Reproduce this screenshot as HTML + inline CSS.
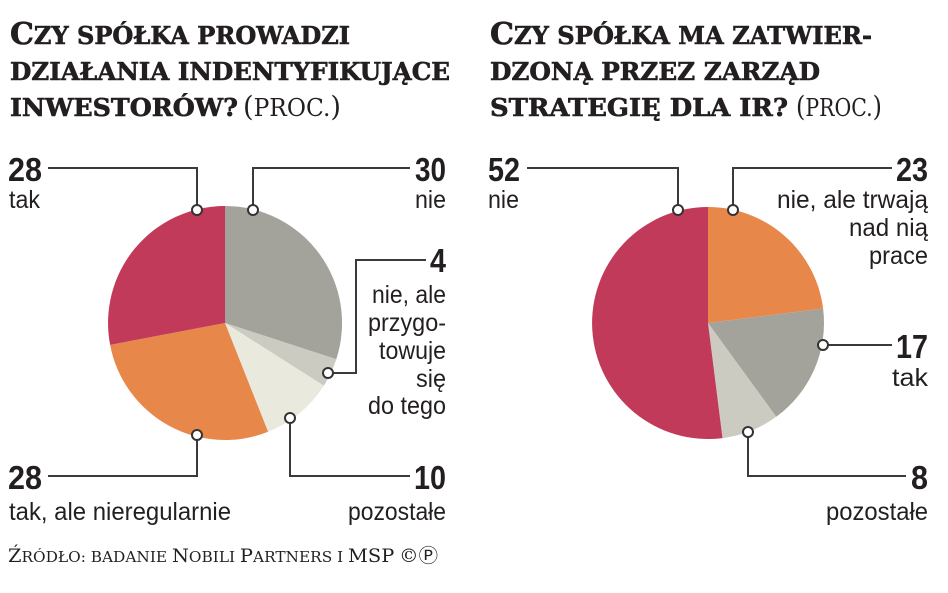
<!DOCTYPE html>
<html><head><meta charset="utf-8"><style>
html,body{margin:0;padding:0;background:#fff;}
svg{display:block}
.t{font-family:"DejaVu Serif","Liberation Serif",serif;font-weight:bold;fill:#231f20;stroke:#231f20;stroke-width:0.6;font-size:24px}
.tn{font-family:"DejaVu Serif","Liberation Serif",serif;font-weight:normal;fill:#231f20;font-size:24px}
.n{font-family:"Liberation Sans",sans-serif;font-weight:bold;fill:#231f20;font-size:33px}
.l{font-family:"Liberation Sans",sans-serif;fill:#231f20;font-size:25px}
.s{font-family:"DejaVu Serif","Liberation Serif",serif;fill:#231f20;font-size:15px}
.ln{stroke:#3a3a3a;stroke-width:2;fill:none}
.c{fill:#fff;stroke:#333;stroke-width:2}
</style></head><body>
<svg width="948" height="593" viewBox="0 0 948 593" xmlns="http://www.w3.org/2000/svg">
<text class="t" x="10" y="44" textLength="340" lengthAdjust="spacingAndGlyphs"><tspan font-size="30">C</tspan>ZY SPÓŁKA PROWADZI</text>
<text class="t" x="10" y="80" textLength="440" lengthAdjust="spacingAndGlyphs">DZIAŁANIA INDENTYFIKUJĄCE</text>
<text class="t" x="10" y="116" textLength="228" lengthAdjust="spacingAndGlyphs">INWESTORÓW?</text>
<text class="tn" x="243" y="116" textLength="98" lengthAdjust="spacingAndGlyphs"><tspan font-size="28">(</tspan>PROC.<tspan font-size="28">)</tspan></text>

<text class="t" x="490" y="44" textLength="382" lengthAdjust="spacingAndGlyphs"><tspan font-size="30">C</tspan>ZY SPÓŁKA MA ZATWIER-</text>
<text class="t" x="490" y="80" textLength="330" lengthAdjust="spacingAndGlyphs">DZONĄ PRZEZ ZARZĄD</text>
<text class="t" x="490" y="116" textLength="298" lengthAdjust="spacingAndGlyphs">STRATEGIĘ DLA IR?</text>
<text class="tn" x="796" y="116" textLength="86" lengthAdjust="spacingAndGlyphs"><tspan font-size="28">(</tspan>PROC.<tspan font-size="28">)</tspan></text>

<g>
<path d="M225,323 L225,206 A117,117 0 0 1 336.3,359.2 Z" fill="#a3a39b"/>
<path d="M225,323 L336.3,359.2 A117,117 0 0 1 323.8,385.7 Z" fill="#cbcbc2"/>
<path d="M225,323 L323.8,385.7 A117,117 0 0 1 268.1,431.8 Z" fill="#e9e9de"/>
<path d="M225,323 L268.1,431.8 A117,117 0 0 1 110.1,344.9 Z" fill="#e8874a"/>
<path d="M225,323 L110.1,344.9 A117,117 0 0 1 225,206 Z" fill="#c23a5a"/>
</g>
<g>
<path d="M708,323 L708,207 A116,116 0 0 1 823.1,308.5 Z" fill="#e8874a"/>
<path d="M708,323 L823.1,308.5 A116,116 0 0 1 776.2,416.8 Z" fill="#a3a39b"/>
<path d="M708,323 L776.2,416.8 A116,116 0 0 1 722.5,438.1 Z" fill="#cbcbc2"/>
<path d="M708,323 L722.5,438.1 A116,116 0 1 1 708,207 Z" fill="#c23a5a"/>
</g>

<polyline class="ln" points="48,168 197,168 197,210"/>
<polyline class="ln" points="253,210 253,168 410,168"/>
<polyline class="ln" points="328,373 356,373 356,260 426,260"/>
<polyline class="ln" points="290,418 290,476 410,476"/>
<polyline class="ln" points="197,435 197,476 48,476"/>
<circle class="c" cx="197" cy="210" r="5"/>
<circle class="c" cx="253" cy="210" r="5"/>
<circle class="c" cx="328" cy="373" r="5"/>
<circle class="c" cx="290" cy="418" r="5"/>
<circle class="c" cx="197" cy="435" r="5"/>

<polyline class="ln" points="527,168 678,168 678,210"/>
<polyline class="ln" points="733,210 733,168 892,168"/>
<polyline class="ln" points="823,345 892,345"/>
<polyline class="ln" points="748,432 748,476 906,476"/>
<circle class="c" cx="678" cy="210" r="5"/>
<circle class="c" cx="733" cy="210" r="5"/>
<circle class="c" cx="823" cy="345" r="5"/>
<circle class="c" cx="748" cy="432" r="5"/>

<text class="n" x="8" y="181" textLength="34" lengthAdjust="spacingAndGlyphs">28</text>
<text class="l" x="9" y="208" textLength="31" lengthAdjust="spacingAndGlyphs">tak</text>
<text class="n" x="446" y="181" text-anchor="end" textLength="31" lengthAdjust="spacingAndGlyphs">30</text>
<text class="l" x="446" y="208" text-anchor="end" textLength="31" lengthAdjust="spacingAndGlyphs">nie</text>
<text class="n" x="446" y="272" text-anchor="end" textLength="16" lengthAdjust="spacingAndGlyphs">4</text>
<text class="l" x="446" y="303" text-anchor="end" textLength="74" lengthAdjust="spacingAndGlyphs">nie, ale</text>
<text class="l" x="446" y="331" text-anchor="end" textLength="78" lengthAdjust="spacingAndGlyphs">przygo-</text>
<text class="l" x="446" y="359" text-anchor="end" textLength="67" lengthAdjust="spacingAndGlyphs">towuje</text>
<text class="l" x="446" y="387" text-anchor="end" textLength="30" lengthAdjust="spacingAndGlyphs">się</text>
<text class="l" x="446" y="414" text-anchor="end" textLength="78" lengthAdjust="spacingAndGlyphs">do tego</text>
<text class="n" x="8" y="489" textLength="34" lengthAdjust="spacingAndGlyphs">28</text>
<text class="l" x="9" y="520" textLength="222" lengthAdjust="spacingAndGlyphs">tak, ale nieregularnie</text>
<text class="n" x="446" y="489" text-anchor="end" textLength="32" lengthAdjust="spacingAndGlyphs">10</text>
<text class="l" x="446" y="520" text-anchor="end" textLength="98" lengthAdjust="spacingAndGlyphs">pozostałe</text>

<text class="n" x="488" y="181" textLength="32" lengthAdjust="spacingAndGlyphs">52</text>
<text class="l" x="488" y="208" textLength="31" lengthAdjust="spacingAndGlyphs">nie</text>
<text class="n" x="928" y="181" text-anchor="end" textLength="32" lengthAdjust="spacingAndGlyphs">23</text>
<text class="l" x="928" y="208" text-anchor="end" textLength="151" lengthAdjust="spacingAndGlyphs">nie, ale trwają</text>
<text class="l" x="928" y="236" text-anchor="end" textLength="79" lengthAdjust="spacingAndGlyphs">nad nią</text>
<text class="l" x="928" y="264" text-anchor="end" textLength="59" lengthAdjust="spacingAndGlyphs">prace</text>
<text class="n" x="928" y="358" text-anchor="end" textLength="32" lengthAdjust="spacingAndGlyphs">17</text>
<text class="l" x="928" y="386" text-anchor="end" textLength="36" lengthAdjust="spacingAndGlyphs">tak</text>
<text class="n" x="928" y="489" text-anchor="end" textLength="17" lengthAdjust="spacingAndGlyphs">8</text>
<text class="l" x="928" y="520" text-anchor="end" textLength="102" lengthAdjust="spacingAndGlyphs">pozostałe</text>

<text class="s" x="8" y="562" textLength="430" lengthAdjust="spacingAndGlyphs"><tspan font-size="19">Ź</tspan>RÓDŁO: BADANIE <tspan font-size="19">N</tspan>OBILI <tspan font-size="19">P</tspan>ARTNERS I <tspan font-size="19">MSP</tspan> <tspan font-size="19">©Ⓟ</tspan></text>
</svg>
</body></html>
